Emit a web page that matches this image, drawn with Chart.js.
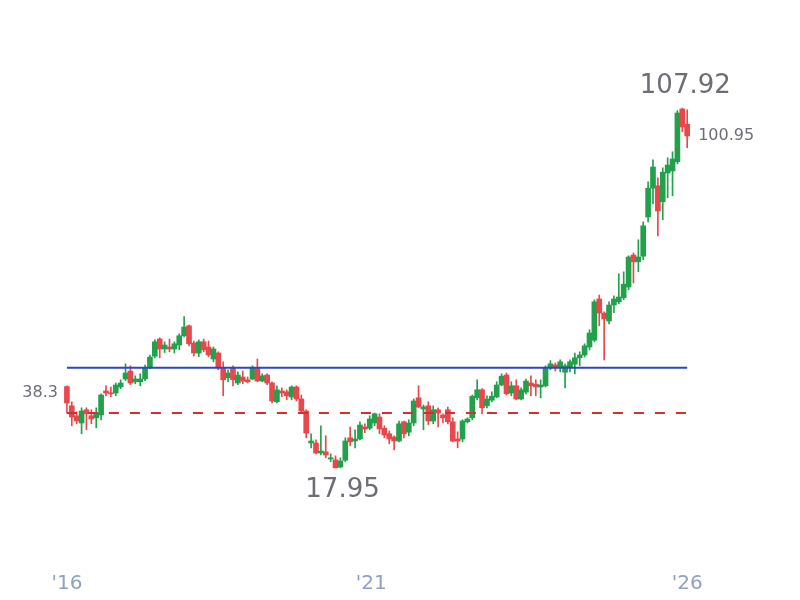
<!DOCTYPE html>
<html>
<head>
<meta charset="utf-8">
<script src="https://cdn.jsdelivr.net/npm/chart.js@4"></script>
<style>
  body { margin: 0; background: #fff; }
  #wrap { width: 800px; height: 600px; }
</style>
</head>
<body>
<div id="wrap"><canvas id="chart"></canvas></div>
<script>
// monthly candles, first one left, last one right
const opens  = [38.3,33.5,31.0,29.2,32.5,31.0,30.5,31.2,37.2,36.7,36.7,38.2,40.2,42.2,39.5,39.5,40.2,43.0,45.9,50.2,47.7,48.2,47.7,48.7,51.0,53.5,49.2,46.7,49.5,48.2,45.2,46.7,43.0,40.5,43.0,39.2,40.7,40.0,40.2,43.0,39.7,41.2,39.2,34.5,37.2,37.0,35.7,38.2,35.2,32.2,24.2,24.2,21.7,22.0,20.2,20.0,18.2,19.9,25.5,24.7,25.2,28.2,27.9,29.2,30.7,27.9,26.5,25.7,24.7,29.5,26.9,29.2,35.5,32.7,33.5,29.7,32.5,31.2,32.5,29.5,25.2,25.2,29.5,30.5,35.5,37.5,33.5,34.9,35.7,38.7,41.2,36.7,38.5,35.2,36.9,39.2,38.9,38.2,38.5,43.0,43.7,43.2,41.9,43.2,43.9,45.5,46.2,48.2,49.9,60.2,56.7,54.7,58.7,59.5,60.5,63.2,71.2,69.5,70.9,80.7,87.9,88.5,84.5,91.7,92.2,94.5,107.7,103.9];
const highs  = [38.5,34.5,32.0,33.0,33.0,32.5,33.0,36.5,38.5,38.2,39.2,40.0,44.0,43.5,41.0,41.5,43.7,46.2,50.0,50.5,49.5,50.2,49.5,51.5,55.8,53.7,49.7,50.0,50.2,49.7,48.2,47.0,44.5,42.5,43.5,42.0,42.2,40.7,43.5,45.2,41.5,41.5,39.5,38.5,38.0,37.5,38.5,38.5,36.2,32.5,26.5,25.0,28.5,26.0,21.5,21.0,20.5,25.5,28.2,27.5,29.5,29.0,31.0,31.7,31.5,28.5,27.2,26.0,29.7,29.7,30.0,35.2,38.5,33.7,34.5,33.5,33.0,31.5,33.2,30.5,27.0,30.0,30.5,36.2,40.0,37.8,36.0,37.0,39.5,41.5,41.7,39.5,40.0,38.0,40.2,41.0,40.0,40.0,43.5,44.8,44.2,45.0,44.0,45.0,46.7,47.0,49.0,52.5,60.0,61.2,57.0,59.5,61.0,66.5,67.0,71.0,71.7,75.0,79.5,89.5,95.0,90.5,93.0,95.5,97.0,107.3,107.92,107.5];
const lows   = [31.7,28.5,29.0,26.5,27.5,29.0,28.0,30.0,36.0,35.8,36.0,37.8,39.8,38.8,39.0,38.5,39.8,42.8,45.5,45.5,46.8,47.0,46.7,47.5,50.7,48.5,46.0,45.8,47.0,45.8,44.5,42.5,36.0,39.5,38.5,38.8,39.0,39.2,40.0,39.5,39.5,38.8,34.2,34.2,35.8,35.0,35.0,34.7,31.8,25.5,23.0,21.5,21.2,20.5,19.5,17.95,18.0,19.5,23.5,23.0,25.0,26.8,27.5,28.5,26.5,25.5,24.0,22.5,24.5,25.5,26.0,28.5,33.0,27.5,28.8,29.0,28.2,29.2,29.0,24.5,23.0,24.5,29.2,30.0,35.0,31.5,33.0,34.5,35.5,38.5,36.2,36.0,35.0,35.0,36.5,36.0,36.0,35.5,38.2,42.5,42.2,42.0,38.0,42.0,41.5,43.5,45.7,47.5,49.5,53.5,45.0,54.0,56.8,59.0,60.0,62.5,64.2,67.0,70.0,79.5,84.0,76.0,80.0,85.5,86.0,94.0,102.0,98.0];
const closes = [34.2,30.7,29.7,32.2,31.5,30.2,31.7,36.2,36.7,36.5,38.7,39.2,41.7,39.2,40.2,40.2,43.0,45.7,49.5,47.7,48.7,47.7,49.0,51.0,53.2,49.0,46.7,49.5,47.5,46.2,47.7,43.0,40.0,41.7,40.0,41.2,39.7,39.5,43.0,39.7,41.0,39.2,34.7,37.5,36.7,36.0,38.2,35.2,32.2,26.7,24.7,21.7,22.2,21.2,20.5,18.0,19.7,24.7,24.5,25.2,28.7,27.7,30.2,31.5,27.7,26.2,25.2,24.7,29.0,26.5,29.2,34.7,33.2,33.2,29.7,32.5,31.7,30.5,29.5,24.7,24.7,29.7,30.2,35.9,37.5,33.0,35.2,35.9,38.7,40.9,36.5,38.5,35.2,37.5,39.7,38.5,38.2,38.7,43.0,44.0,43.0,44.5,43.5,44.5,45.5,46.2,48.5,51.7,59.5,56.7,55.2,58.7,60.2,60.7,63.9,70.7,69.5,70.7,78.5,87.9,93.2,82.2,91.9,93.7,95.2,106.7,103.2,100.95];

const tickLabels = ["'16", "'21", "'26"];
const tickIdx = [0, 62.3, 127];
const resistance = 43.0;
const support = 31.7;

const UP = '#22a04b', DOWN = '#e8474c';
const colors = opens.map((o, i) => closes[i] >= o ? UP : DOWN);
const wicks = highs.map((h, i) => ({ x: i, y: [lows[i], h] }));
const bodies = opens.map((o, i) => ({ x: i, y: [o, closes[i]] }));
const last = opens.length - 1;

const annotate = {
    id: 'annotate',
    afterDatasetsDraw(chart) {
        const { ctx, scales: { x, y } } = chart;
        ctx.save();
        ctx.fillStyle = '#6d6d75';
        ctx.textBaseline = 'middle';
        const hiIdx = highs.indexOf(Math.max(...highs));
        const loIdx = lows.indexOf(Math.min(...lows));
        ctx.font = '26px "DejaVu Sans"';
        ctx.textAlign = 'center';
        ctx.fillText(String(highs[hiIdx]), x.getPixelForValue(hiIdx) + 3, y.getPixelForValue(highs[hiIdx]) - 22);
        ctx.fillText(String(lows[loIdx]), x.getPixelForValue(loIdx) + 7, y.getPixelForValue(lows[loIdx]) + 22);
        ctx.font = '16px "DejaVu Sans"';
        ctx.textAlign = 'left';
        ctx.fillText(String(closes[last]), x.getPixelForValue(last) + 11, y.getPixelForValue(closes[last]));
        ctx.textAlign = 'right';
        ctx.fillText(String(opens[0]), x.getPixelForValue(0) - 9, y.getPixelForValue(opens[0]) + 6);
        ctx.restore();
    }
};

new Chart(document.getElementById('chart'), {
    type: 'bar',
    data: {
        datasets: [
            { type: 'line', data: [{ x: 0, y: resistance }, { x: last, y: resistance }], borderColor: '#2b46c0', borderWidth: 2, pointRadius: 0, order: 0 },
            { type: 'line', data: [{ x: 0, y: support }, { x: last, y: support }], borderColor: '#d0312d', borderWidth: 2, borderDash: [10, 11], pointRadius: 0, order: 0 },
            { data: wicks, backgroundColor: colors, barThickness: 1, grouped: false, order: 2 },
            { data: bodies, backgroundColor: colors, barThickness: 5, minBarLength: 1, grouped: false, order: 1 }
        ]
    },
    options: {
        responsive: true,
        maintainAspectRatio: false,
        animation: false,
        layout: { padding: 0 },
        plugins: { legend: { display: false }, tooltip: { enabled: false } },
        scales: {
            x: {
                type: 'linear',
                offset: false,
                min: -13.7,
                max: 150.1,
                grid: { display: false, drawTicks: false },
                border: { display: false },
                afterBuildTicks: (s) => { s.ticks = tickIdx.map(v => ({ value: v })); },
                afterFit: (s) => { s.height = 40; },
                ticks: {
                    color: '#8fa0c0',
                    font: { size: 20, family: 'DejaVu Sans' },
                    padding: 12,
                    maxRotation: 0,
                    autoSkip: false,
                    callback: (v) => tickLabels[tickIdx.indexOf(v)]
                }
            },
            y: { display: false, min: -5.05, max: 134.95 }
        }
    },
    plugins: [annotate]
});
</script>
</body>
</html>
